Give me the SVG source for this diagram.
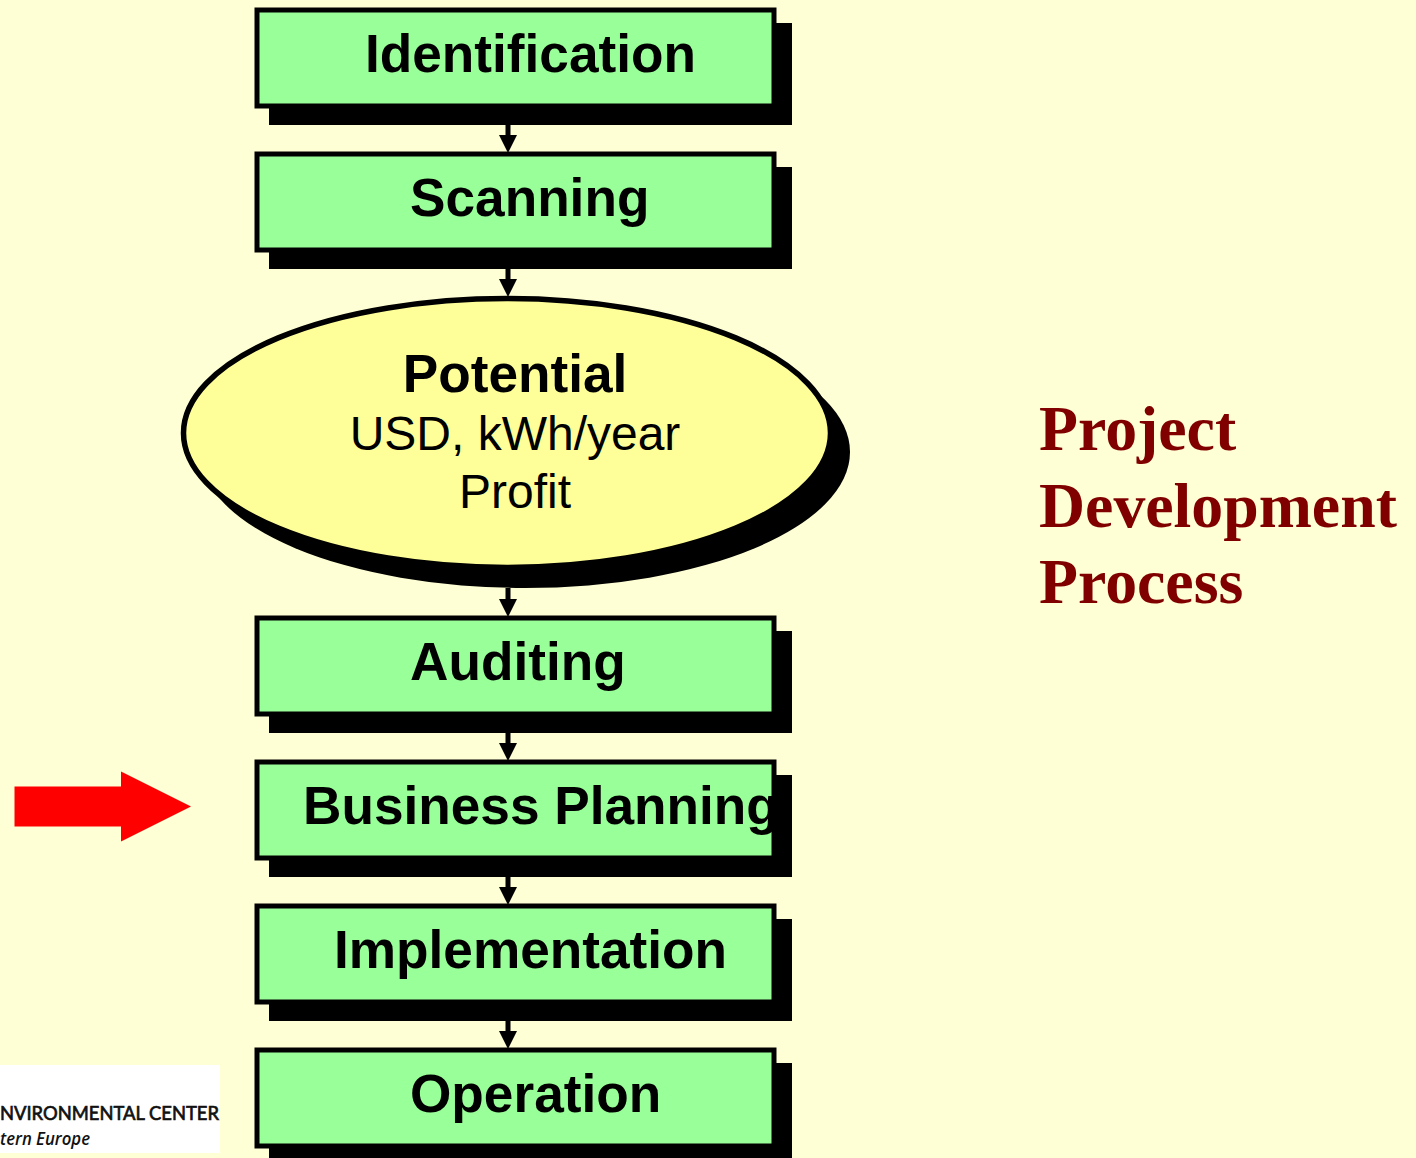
<svg xmlns="http://www.w3.org/2000/svg" width="1416" height="1158" viewBox="0 0 1416 1158">
<style>
.sh{fill:#000}
.box{fill:#99ff99;stroke:#000;stroke-width:5}
.t{font-family:"Liberation Sans",Arial,sans-serif;font-size:48px;fill:#000}
.b{font-weight:bold;font-size:53.2px}
.s{text-anchor:middle}
.title{font-family:"Liberation Serif","Times New Roman",serif;font-weight:bold;font-size:63.8px;fill:#800000}
.line{stroke:#000;stroke-width:5;fill:none}
.head{fill:#000}
</style>
<rect width="1416" height="1158" fill="#ffffd5"/>
<g id="logo">
<rect x="0" y="1065" width="220" height="88" fill="#fff"/>
<text x="0" y="1120" font-family="Lato,'Liberation Sans',sans-serif" font-size="19.500" fill="#111" stroke="#111" stroke-width="0.7" textLength="219" lengthAdjust="spacingAndGlyphs">NVIRONMENTAL CENTER</text>
<text x="0" y="1145" font-family="'Open Sans','Liberation Sans',sans-serif" font-style="italic" font-weight="600" font-size="18" fill="#111" textLength="90" lengthAdjust="spacingAndGlyphs">tern Europe</text>
</g>
<g id="connectors">
<path class="line" d="M508 125V135M508 269V279M508 588V600M508 733V743M508 877V887M508 1021V1031"/>
<path class="head" d="M499 135H517L508 153ZM499 279H517L508 297ZM499 599H517L508 617ZM499 743H517L508 761ZM499 887H517L508 905ZM499 1031H517L508 1049Z"/>
</g>
<g id="identification">
<rect class="sh" x="269" y="23" width="523" height="102"/>
<rect class="box" x="257" y="10" width="517" height="96"/>
<text class="t b" x="365" y="71.500">Identification</text>
</g>
<g id="scanning">
<rect class="sh" x="269" y="167" width="523" height="102"/>
<rect class="box" x="257" y="154" width="517" height="96"/>
<text class="t b" x="410" y="215.500">Scanning</text>
</g>
<g id="potential">
<ellipse class="sh" cx="525" cy="452" rx="325" ry="136"/>
<ellipse cx="507" cy="433" rx="323.500" ry="134.500" fill="#ffff99" stroke="#000" stroke-width="5.500"/>
<text class="t b s" x="515" y="391.500">Potential</text>
<text class="t s" x="515" y="450">USD, kWh/year</text>
<text class="t s" x="515" y="508">Profit</text>
</g>
<g id="auditing">
<rect class="sh" x="269" y="631" width="523" height="102"/>
<rect class="box" x="257" y="618" width="517" height="96"/>
<text class="t b" x="410" y="679.500">Auditing</text>
</g>
<g id="business-planning">
<rect class="sh" x="269" y="775" width="523" height="102"/>
<rect class="box" x="257" y="762" width="517" height="96"/>
<text class="t b" x="303" y="823.500">Business Planning</text>
</g>
<g id="implementation">
<rect class="sh" x="269" y="919" width="523" height="102"/>
<rect class="box" x="257" y="906" width="517" height="96"/>
<text class="t b" x="334" y="967.500">Implementation</text>
</g>
<g id="operation">
<rect class="sh" x="269" y="1063" width="523" height="102"/>
<rect class="box" x="257" y="1050" width="517" height="96"/>
<text class="t b" x="410" y="1111.500">Operation</text>
</g>
<g id="red-arrow">
<polygon points="14.500,786.500 121,786.500 121,771.500 191,806.500 121,841.500 121,826.500 14.500,826.500" fill="#ff0000"/>
</g>
<g id="title">
<text class="title" x="1039" y="449.500">Project</text>
<text class="title" x="1039" y="526.500">Development</text>
<text class="title" x="1039" y="602.500">Process</text>
</g>
</svg>
